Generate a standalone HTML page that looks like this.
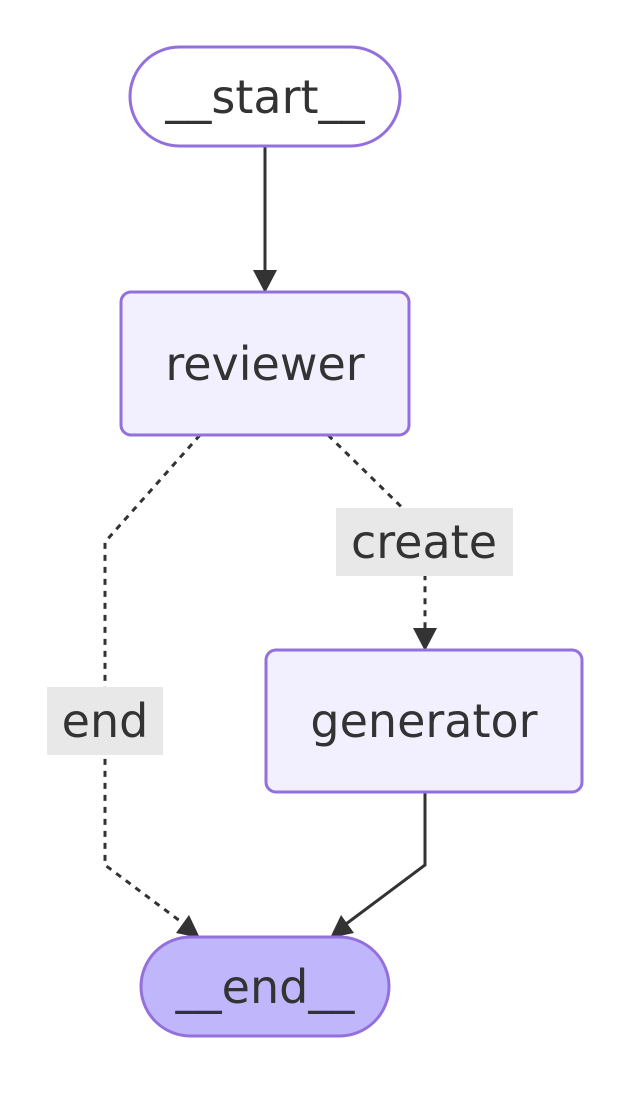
<!DOCTYPE html>
<html><head><meta charset="utf-8"><style>
html,body{margin:0;padding:0;background:#fff;}
svg{display:block;}
text{font-family:"DejaVu Sans","Liberation Sans",sans-serif;font-size:46px;fill:#333;}
</style></head><body>
<svg width="630" height="1098" viewBox="0 0 630 1098" xmlns="http://www.w3.org/2000/svg">
<g fill="none" stroke="#333" stroke-width="3">
<path d="M265,146 L265,272"/>
<path d="M200,435 L105,542 L105,865 L184,924" stroke-dasharray="6,6"/>
<path d="M328,435 L425,530 L425,630" stroke-dasharray="6,6"/>
<path d="M425,792 L425,865 L346,924"/>
</g>
<g fill="#333">
<polygon points="253,270 277,270 265,293"/>
<polygon points="413,628 437,628 425,651"/>
<polygon points="200,938 176,933 189,915"/>
<polygon points="330,938 354,933 341,915"/>
</g>
<rect x="130" y="47" width="270" height="99" rx="49.5" fill="#fff" stroke="#9370db" stroke-width="3"/>
<text x="265" y="113" text-anchor="middle">__start__</text>
<rect x="121" y="292" width="288" height="143" rx="10" fill="#f2f0ff" stroke="#9370db" stroke-width="3"/>
<text x="265" y="380" text-anchor="middle">reviewer</text>
<rect x="266" y="650" width="316" height="142" rx="10" fill="#f2f0ff" stroke="#9370db" stroke-width="3"/>
<text x="424" y="737" text-anchor="middle">generator</text>
<rect x="141" y="937" width="248" height="99" rx="49.5" fill="#bfb6fc" stroke="#9370db" stroke-width="3"/>
<text x="265" y="1003" text-anchor="middle">__end__</text>
<rect x="47" y="687" width="116" height="68" fill="#e8e8e8"/>
<text x="105" y="737" text-anchor="middle">end</text>
<rect x="336" y="508" width="177" height="68" fill="#e8e8e8"/>
<text x="424" y="558" text-anchor="middle">create</text>
</svg>
</body></html>
